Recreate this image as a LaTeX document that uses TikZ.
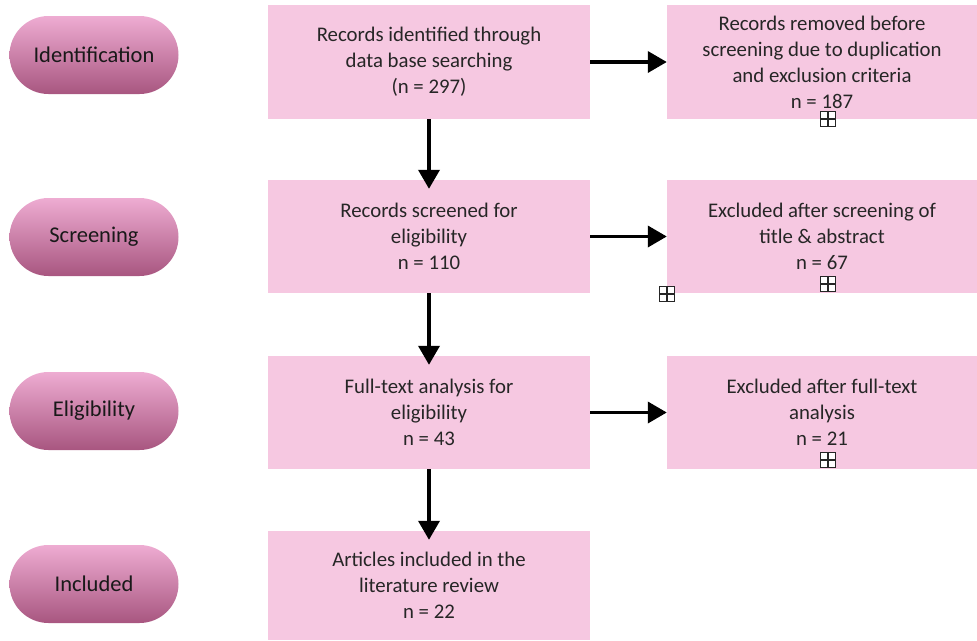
\documentclass[tikz,border=0pt]{standalone}
\usepackage{fontspec}
\setmainfont{Carlito}
\usetikzlibrary{arrows.meta}
\definecolor{boxpink}{RGB}{246,200,225}
\definecolor{pilltop}{RGB}{238,172,210}
\definecolor{pillbot}{RGB}{168,86,128}
\tikzset{
  x=1pt, y=-1pt,
  stage/.style={rounded corners=39pt, minimum width=169pt, minimum height=78pt,
    top color=pilltop, bottom color=pillbot, draw=none, inner sep=0pt,
    font=\fontsize{22.5}{26}\selectfont, text=black!90},
  midbox/.style={fill=boxpink, draw=none, minimum width=322pt, align=center,
    font=\fontsize{20.8}{26}\selectfont, text=black!85, inner sep=0pt},
  sidebox/.style={fill=boxpink, draw=none, minimum width=310pt, align=center,
    font=\fontsize{20.8}{26}\selectfont, text=black!85, inner sep=0pt},
  flow/.style={line width=3.6pt, -{Triangle[length=19pt,width=21pt]}},
  plusbox/.style={draw=black!85, line width=1.3pt, fill=white, minimum size=15pt, inner sep=0pt,
    path picture={\draw[line width=1.3pt, black!85]
      (path picture bounding box.north) -- (path picture bounding box.south)
      (path picture bounding box.west) -- (path picture bounding box.east);}}
}
\begin{document}
\begin{tikzpicture}
\useasboundingbox (0,0) rectangle (977,640);
% stages
\node[stage] (s1) at (94,55) {Identification};
\node[stage] (s2) at (94,237) {Screening};
\node[stage] (s3) at (94,411) {Eligibility};
\node[stage] (s4) at (94,584) {Included};
% middle boxes
\node[midbox, minimum height=114pt] (m1) at (429,62) {Records identified through\\data base searching\\(n = 297)};
\node[midbox, minimum height=113pt] (m2) at (429,236.5) {Records screened for\\eligibility\\n = 110};
\node[midbox, minimum height=113pt] (m3) at (429,412.5) {Full-text analysis for\\eligibility\\n = 43};
\node[midbox, minimum height=109pt] (m4) at (429,585.5) {Articles included in the\\literature review\\n = 22};
% side boxes
\node[sidebox, minimum height=114pt] (r1) at (822,62) {Records removed before\\screening due to duplication\\and exclusion criteria\\n = 187};
\node[sidebox, minimum height=113pt] (r2) at (822,236.5) {Excluded after screening of\\title \& abstract\\n = 67};
\node[sidebox, minimum height=113pt] (r3) at (822,412.5) {Excluded after full-text\\analysis\\n = 21};
% plus icons
\node[plusbox] (p1) at (828,119) {};
\node[plusbox] (p2) at (828,284) {};
\node[plusbox] (p3) at (667,294) {};
\node[plusbox] (p4) at (828,460) {};
% arrows
\draw[flow] (m1.east) -- (r1.west);
\draw[flow] (m2.east) -- (r2.west);
\draw[flow] (m3.east) -- (r3.west);
\draw[flow] (m1.south) -- ([yshift=-9pt]m2.north);
\draw[flow] (m2.south) -- ([yshift=-9pt]m3.north);
\draw[flow] (m3.south) -- ([yshift=-9pt]m4.north);
\end{tikzpicture}
\end{document}
